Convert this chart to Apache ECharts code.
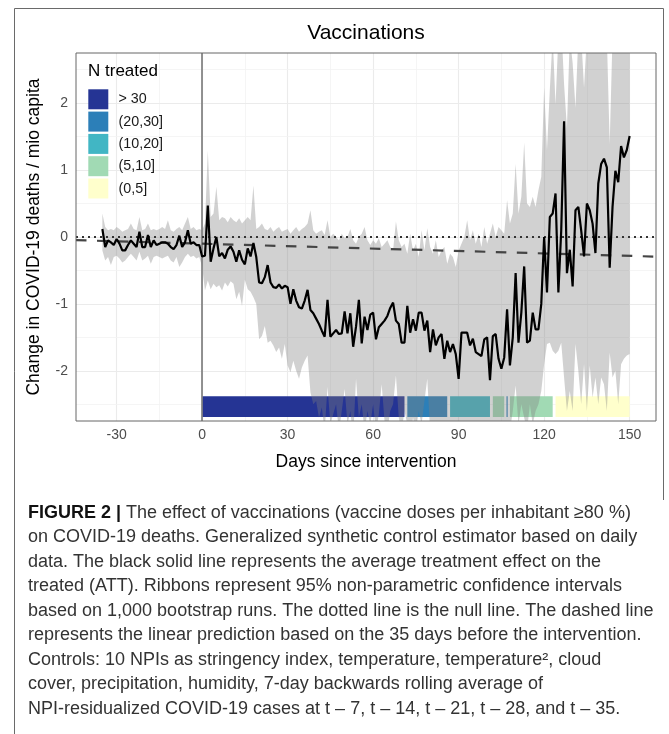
<!DOCTYPE html>
<html>
<head>
<meta charset="utf-8">
<script src="https://cdn.jsdelivr.net/npm/echarts@6/dist/echarts.min.js"></script>
<style>html,body{margin:0;padding:0;background:#fff}#c{width:669px;height:734px}</style>
</head>
<body>
<div id="c"></div>
<script>
// ---------------- DATA ----------------
const firstDay = -35; // days -35 .. 150, one value per day

const att = [
  // pre-period -35 .. -1
  0.12, -0.15, -0.05, -0.08, -0.12, -0.03, -0.1, -0.2, -0.2, -0.12,
  -0.05, -0.1, -0.15, 0.08, -0.15, -0.15, 0.03, -0.15, -0.05, -0.12,
  -0.1, -0.08, -0.08, -0.1, -0.15, -0.18, -0.12, 0.02, -0.15, -0.08,
  0.1, -0.1, -0.08, -0.12, -0.12,
  // 0 .. 150
  -0.29, -0.28, 0.47, -0.37, -0.17, 0.0, -0.29, -0.24, -0.32, -0.19,
  -0.14, -0.22, -0.37, -0.2, -0.34, -0.41, -0.17, -0.29, -0.09, -0.3,
  -0.68, -0.69, -0.6, -0.42, -0.68, -0.75, -0.76, -0.71, -0.77, -0.73,
  -0.75, -1.0, -0.78, -0.95, -1.05, -1.07, -0.95, -0.79, -1.09, -1.14,
  -1.22, -1.3, -1.4, -1.49, -0.94, -1.49, -1.44, -1.39, -1.45, -1.44,
  -1.11, -1.44, -1.14, -1.64, -1.34, -0.94, -1.59, -1.19, -1.39, -1.16,
  -1.13, -1.53, -1.35, -1.3, -1.25, -1.18, -1.06, -0.98, -1.25, -1.3,
  -1.58, -1.58, -1.03, -1.43, -1.23, -1.4, -1.13, -1.13, -1.4, -1.25,
  -1.72, -1.38, -1.62, -1.5, -1.45, -1.82, -1.55, -1.72, -1.6, -1.75,
  -2.12, -1.43, -1.43, -1.43, -1.62, -1.52, -1.72, -1.75, -1.78, -1.53,
  -1.5, -2.14, -1.48, -1.45, -1.82, -1.97, -1.8, -1.08, -1.92, -1.5,
  -0.54, -1.58, -1.13, -0.44, -1.58, -1.55, -1.13, -1.38, -1.38, -1.0,
  0.0, -0.83, 0.3, 0.35, 0.65, -0.83, 0.1, 1.73, -0.54, -0.19,
  -0.74, 0.4, 0.45, 0.1, -0.29, 0.5, 0.4, 0.2, -0.24, 0.8,
  1.09, 1.17, 1.04, -0.46, 0.45, 0.99, 0.82, 1.36, 1.19, 1.3,
  1.51
];

const ciLower = [
  -0.2, -0.35, -0.3, -0.42, -0.3, -0.28, -0.32, -0.38, -0.35, -0.3,
  -0.25, -0.3, -0.35, -0.22, -0.35, -0.32, -0.28, -0.4, -0.3, -0.28,
  -0.3, -0.32, -0.3, -0.28, -0.35, -0.38, -0.3, -0.45, -0.38, -0.3,
  -0.25, -0.3, -0.28, -0.32, -0.3,
  -0.44, -0.8, -0.65, -0.78, -0.7, -0.75, -0.72, -0.8, -0.68, -0.74,
  -0.66, -0.7, -0.93, -0.82, -1.03, -0.64, -0.78, -0.82, -0.9, -1.0,
  -1.53, -1.48, -1.33, -1.58, -1.55, -1.62, -1.72, -1.65, -1.82, -1.6,
  -1.92, -2.02, -1.85, -2.0, -2.12, -1.95, -1.85, -1.77, -2.32, -2.5,
  -2.45, -2.7, -2.55, -2.9, -2.24, -2.8, -2.65, -2.5, -2.9, -2.6,
  -2.27, -2.8, -2.6, -3.0, -2.12, -2.7, -2.5, -2.9, -2.6, -2.8,
  -2.5, -2.9, -2.65, -2.2, -2.75, -2.9, -2.6, -2.5, -2.07, -2.7,
  -2.9, -2.6, -2.8, -3.0, -2.7, -2.9, -2.6, -2.8, -2.45, -2.12,
  -2.9, -3.0, -2.8, -3.2, -2.9, -3.0, -2.8, -3.1, -2.9, -3.0,
  -3.2, -2.9, -3.0, -3.1, -2.9, -3.0, -3.1, -3.0, -2.9, -3.2,
  -3.0, -2.9, -3.0, -3.1, -3.0, -2.9, -2.8, -3.0, -2.9, -2.6,
  -2.22, -2.8, -2.5, -2.7, -2.9, -2.5, -2.8, -2.6, -2.5, -2.3,
  -1.9, -1.6, -1.58, -1.7, -1.75, -1.7, -1.58, -2.1, -2.6, -2.3,
  -2.6, -1.6, -2.0, -2.5, -1.9, -2.6, -1.92, -2.4, -2.1, -2.5,
  -2.1, -2.2, -2.6, -1.73, -2.1, -2.0, -2.5, -1.9, -1.82, -1.77,
  -1.75
];

const ciUpper = [
  0.35, 0.15, 0.1, 0.12, 0.1, 0.15, 0.12, 0.08, 0.1, 0.12,
  0.2, 0.12, 0.1, 0.3, 0.1, 0.12, 0.2, 0.1, 0.12, 0.1,
  0.12, 0.15, 0.12, 0.25, 0.1, 0.08, 0.12, 0.15, 0.1, 0.2,
  0.3, 0.12, 0.15, 0.1, 0.12,
  0.1, 0.2, 1.29, 0.3, 0.35, 0.75, 0.25, 0.3, 0.28, 0.22,
  0.3, 0.25, 0.22, 0.28, 0.2, 0.25, 0.3, 0.25, 0.77, 0.12,
  0.15, 0.2, 0.12, 0.1, 0.15, 0.08, 0.12, 0.15, 0.08, 0.1,
  0.12, 0.05, 0.1, 0.15, 0.08, 0.12, 0.15, 0.2, 0.4, 0.1,
  0.05, 0.08, 0.1, 0.03, 0.25, 0.0, 0.05, 0.0, -0.05, 0.05,
  -0.02, 0.0, 0.12, -0.05, -0.1, 0.0, 0.05, 0.15, -0.05, -0.12,
  -0.05, -0.1, -0.02, -0.15, -0.1, -0.05, -0.15, -0.2, 0.23, -0.05,
  -0.15, -0.1, -0.25, 0.05, -0.2, -0.1, -0.3, 0.1, -0.2, 0.13,
  -0.15, -0.25, -0.05, -0.3, -0.2, -0.15, -0.4, -0.25, -0.3, -0.45,
  -0.2, -0.1, 0.0, 0.25, -0.05, 0.1, -0.1, 0.05, -0.15, 0.15,
  -0.1, 0.05, 0.2, 0.0, 0.15, 0.1, 0.05, 0.55, 0.2, 0.35,
  1.09, 0.35, 0.6, 1.41, 0.5, 0.45, 0.6, 0.45, 0.7, 0.9,
  2.23, 1.3, 2.2, 3.0, 1.98, 3.0, 3.2, 2.28, 1.63, 3.0,
  2.6, 1.93, 3.0, 3.0, 2.23, 3.0, 3.2, 2.8, 3.0, 3.0,
  3.5, 3.0, 3.0, 1.39, 3.0, 3.2, 3.0, 3.0, 3.0, 3.0,
  3.0
];

// linear prediction from the 35 pre-intervention days (end points at the panel edges)
const trendLine = [[-44.25, -0.047], [159.25, -0.293]];

// N treated per stretch of days: [first day, last day, category index]
const nCategories = ['> 30', '(20,30]', '(10,20]', '(5,10]', '(0,5]'];
const stripSegments = [
  [0, 71, 0], [72, 86, 1], [87, 101, 2], [102, 106, 3],
  [107, 107, 1], [108, 123, 3], [124, 150, 4]
];

const xTicks = [-30, 0, 30, 60, 90, 120, 150];
const xMinor = [-15, 15, 45, 75, 105, 135];
const yTicks = [-2, -1, 0, 1, 2];
const yMinor = [-2.5, -1.5, -0.5, 0.5, 1.5, 2.5];

const captionLines = [
  '{b|FIGURE 2 |} The effect of vaccinations (vaccine doses per inhabitant ≥80 %)',
  'on COVID-19 deaths. Generalized synthetic control estimator based on daily',
  'data. The black solid line represents the average treatment effect on the',
  'treated (ATT). Ribbons represent 95% non-parametric confidence intervals',
  'based on 1,000 bootstrap runs. The dotted line is the null line. The dashed line',
  'represents the linear prediction based on the 35 days before the intervention.',
  'Controls: 10 NPIs as stringency index, temperature, temperature², cloud',
  'cover, precipitation, humidity, 7-day backwards rolling average of',
  'NPI-residualized COVID-19 cases at t – 7, t – 14, t – 21, t – 28, and t – 35.'
];

// ---------------- STYLE ----------------
const FONT = '"Liberation Sans", Arial, Helvetica, sans-serif';
const nColors = ['#253494', '#2c7fb8', '#41b6c4', '#a1dab4', '#ffffcc'];
const STRIP_TOP = -2.38, STRIP_BOTTOM = -2.69;
const RIBBON_FILL = 'rgba(128,128,128,0.36)';

const attData = att.map((v, i) => [firstDay + i, v]);

const gridMark = [];
xTicks.forEach(v => gridMark.push({ xAxis: v, lineStyle: { color: '#ebebeb', width: 1.1, type: 'solid' } }));
xMinor.forEach(v => gridMark.push({ xAxis: v, lineStyle: { color: '#f3f3f3', width: 0.8, type: 'solid' } }));
yTicks.forEach(v => gridMark.push({ yAxis: v, lineStyle: { color: '#ebebeb', width: 1.1, type: 'solid' } }));
yMinor.forEach(v => gridMark.push({ yAxis: v, lineStyle: { color: '#f3f3f3', width: 0.8, type: 'solid' } }));

const chart = echarts.init(document.getElementById('c'), null, { renderer: 'canvas', width: 669, height: 734 });

const graphics = [
  { type: 'polyline', silent: true, shape: { points: [[663.5, 500], [663.5, 8.5], [14.5, 8.5], [14.5, 734]] },
    style: { stroke: '#6a6a6a', lineWidth: 1, fill: null } },
  { type: 'text', x: 366, y: 33, silent: true,
    style: { text: 'Vaccinations', fill: '#000', font: '21px ' + FONT, align: 'center', verticalAlign: 'middle' } },
  { type: 'text', x: 88, y: 71, silent: true, z: 20,
    style: { text: 'N treated', fill: '#000', font: '17px ' + FONT, align: 'left', verticalAlign: 'middle' } }
];
// legend keys (ggplot-style, built from the category list)
nCategories.forEach((n, i) => {
  graphics.push({ type: 'rect', silent: true, z: 20,
    shape: { x: 88.3, y: 89.3 + i * 22.3, width: 20, height: 20 }, style: { fill: nColors[i] } });
  graphics.push({ type: 'text', silent: true, z: 20, x: 118.5, y: 99.5 + i * 22.3,
    style: { text: n, fill: '#1a1a1a', font: '14.3px ' + FONT, align: 'left', verticalAlign: 'middle' } });
});
captionLines.forEach((t, i) => {
  graphics.push({
    type: 'text', x: 28, y: 513 + i * 24.5, silent: true,
    style: {
      text: t, fill: '#333', font: '18px ' + FONT, align: 'left', verticalAlign: 'middle',
      rich: { b: { fontWeight: 'bold', fill: '#111', fontSize: 18, fontFamily: FONT } }
    }
  });
});

const option = {
  animation: false,
  backgroundColor: '#fff',
  graphic: graphics,
  grid: { left: 76, right: 13, top: 53, bottom: 313, show: true, borderColor: '#666', borderWidth: 1,
          backgroundColor: 'transparent', z: 10, containLabel: false },
  xAxis: {
    type: 'value', min: -44.25, max: 159.25,
    name: 'Days since intervention', nameLocation: 'middle', nameGap: 32,
    nameTextStyle: { fontSize: 17.5, color: '#000', fontFamily: FONT },
    axisLine: { show: false },
    axisTick: { show: true, length: 5, customValues: xTicks, lineStyle: { color: '#333', width: 1 } },
    axisLabel: { customValues: xTicks, margin: 7, fontSize: 14, color: '#4d4d4d', fontFamily: FONT,
                 formatter: v => String(v) },
    splitLine: { show: false }
  },
  yAxis: {
    type: 'value', min: -2.75, max: 2.75,
    name: 'Change in COVID-19 deaths / mio capita', nameLocation: 'middle', nameGap: 33,
    nameTextStyle: { fontSize: 17.5, color: '#000', fontFamily: FONT },
    axisLine: { show: false },
    axisTick: { show: true, length: 5, customValues: yTicks, lineStyle: { color: '#333', width: 1 } },
    axisLabel: { customValues: yTicks, margin: 8, fontSize: 14, color: '#4d4d4d', fontFamily: FONT,
                 formatter: v => String(v) },
    splitLine: { show: false }
  },
  series: [
    { name: 'grid', type: 'line', data: [], z: 1, silent: true,
      markLine: { z: 1, silent: true, symbol: ['none', 'none'], label: { show: false }, animation: false,
                  lineStyle: { type: 'solid' }, emphasis: { disabled: true }, data: gridMark } },
    { name: 'strip', type: 'custom', z: 2, silent: true, data: stripSegments,
      renderItem: (params, api) => {
        const s = api.value(0), e = api.value(1), c = api.value(2);
        const a = api.coord([s, STRIP_TOP]), b = api.coord([e, STRIP_BOTTOM]);
        const w = b[0] - a[0];
        return { type: 'rect',
          shape: { x: w > 0 ? a[0] : a[0] - 0.6, y: a[1], width: Math.max(w, 1.2), height: b[1] - a[1] },
          style: { fill: nColors[c] } };
      } },
    { name: 'ci', type: 'custom', z: 3, silent: true, data: [[firstDay, 0]],
      renderItem: (params, api) => {
        const pts = [];
        for (let i = 0; i < ciUpper.length; i++) pts.push(api.coord([firstDay + i, ciUpper[i]]));
        for (let i = ciLower.length - 1; i >= 0; i--) pts.push(api.coord([firstDay + i, ciLower[i]]));
        const cs = params.coordSys;
        return { type: 'polygon', shape: { points: pts }, style: { fill: RIBBON_FILL },
                 clipPath: { type: 'rect', shape: { x: cs.x, y: cs.y, width: cs.width, height: cs.height } } };
      } },
    { name: 'refs', type: 'line', data: [], z: 4, silent: true,
      markLine: { z: 4, silent: true, symbol: ['none', 'none'], label: { show: false }, animation: false,
                  emphasis: { disabled: true },
                  data: [
                    { xAxis: 0, lineStyle: { color: '#7f7f7f', width: 1.7, type: 'solid' } },
                    { yAxis: 0, lineStyle: { color: '#333', width: 2, type: [2, 4] } }
                  ] } },
    { name: 'trend', type: 'line', data: trendLine, symbol: 'none', z: 4, silent: true,
      lineStyle: { color: '#444', width: 2.2, type: [10.5, 10.5] } },
    { name: 'ATT', type: 'line', data: attData, symbol: 'none', z: 6, silent: true,
      lineStyle: { color: '#000', width: 2.2 } }
  ]
};
chart.setOption(option);
</script>
</body>
</html>
